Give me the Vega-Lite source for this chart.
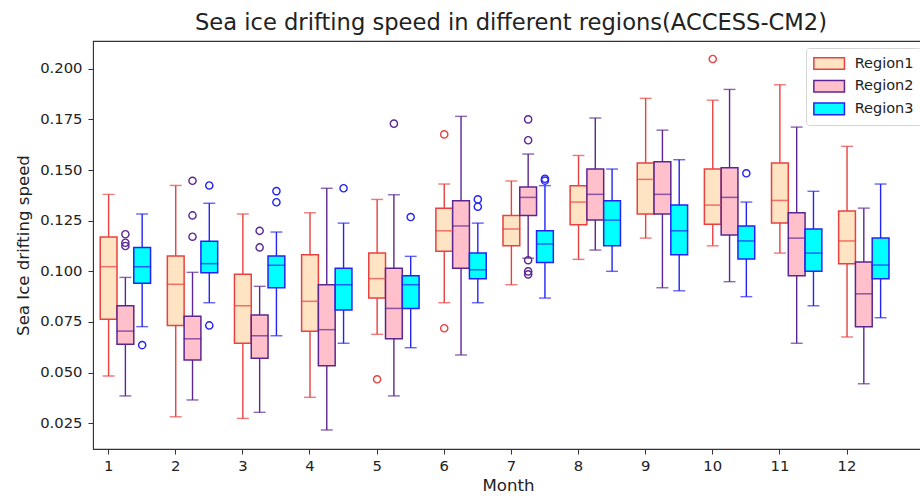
{
  "$schema": "https://vega.github.io/schema/vega-lite/v6.json",
  "autosize": "none",
  "width": 830,
  "height": 408,
  "padding": {"left": 93, "top": 41, "right": 0, "bottom": 52},
  "background": "white",
  "title": {
    "text": "Sea ice drifting speed in different regions(ACCESS-CM2)",
    "font": "DejaVu Sans",
    "fontSize": 22.6,
    "fontWeight": "normal",
    "color": "#222222",
    "anchor": "middle",
    "dx": 3,
    "offset": 6
  },
  "config": {
    "font": "DejaVu Sans",
    "view": {"stroke": "#333333", "strokeWidth": 1.1},
    "axis": {
      "grid": false,
      "domainColor": "#333333",
      "tickColor": "#333333",
      "tickSize": 5,
      "labelFont": "DejaVu Sans",
      "labelFontSize": 14.8,
      "labelColor": "#222222",
      "titleFont": "DejaVu Sans",
      "titleFontSize": 16.6,
      "titleFontWeight": "normal",
      "titleColor": "#222222"
    },
    "legend": {
      "orient": "none",
      "legendX": 713,
      "legendY": 7,
      "title": null,
      "symbolType": "M-2,-0.76H2V0.76H-2Z",
      "symbolSize": 234,
      "symbolOffset": 7.65,
      "symbolStrokeWidth": 1.5,
      "symbolOpacity": 1,
      "labelFont": "DejaVu Sans",
      "labelFontSize": 14.5,
      "labelColor": "#222222",
      "labelOffset": 17,
      "rowPadding": 3.7,
      "padding": 7,
      "strokeColor": "#d5d5d5",
      "fillColor": "white",
      "cornerRadius": 3
    }
  },
  "datasets": {
    "boxes": [
      {"month": 1, "region": "Region1", "lo": 0.0483, "q1": 0.0763, "med": 0.1023, "q3": 0.117, "hi": 0.138},
      {"month": 1, "region": "Region2", "lo": 0.0385, "q1": 0.064, "med": 0.0705, "q3": 0.083, "hi": 0.097},
      {"month": 1, "region": "Region3", "lo": 0.0727, "q1": 0.0941, "med": 0.1023, "q3": 0.1118, "hi": 0.1283},
      {"month": 2, "region": "Region1", "lo": 0.0282, "q1": 0.0733, "med": 0.0936, "q3": 0.1076, "hi": 0.1424},
      {"month": 2, "region": "Region2", "lo": 0.0365, "q1": 0.0562, "med": 0.0667, "q3": 0.0778, "hi": 0.0995},
      {"month": 2, "region": "Region3", "lo": 0.0845, "q1": 0.0993, "med": 0.1038, "q3": 0.1148, "hi": 0.1336},
      {"month": 3, "region": "Region1", "lo": 0.0274, "q1": 0.0645, "med": 0.083, "q3": 0.0985, "hi": 0.1283},
      {"month": 3, "region": "Region2", "lo": 0.0304, "q1": 0.0571, "med": 0.0682, "q3": 0.0784, "hi": 0.0926},
      {"month": 3, "region": "Region3", "lo": 0.0682, "q1": 0.0919, "med": 0.103, "q3": 0.1076, "hi": 0.1194},
      {"month": 4, "region": "Region1", "lo": 0.0378, "q1": 0.0704, "med": 0.0852, "q3": 0.1082, "hi": 0.1289},
      {"month": 4, "region": "Region2", "lo": 0.0217, "q1": 0.0534, "med": 0.0712, "q3": 0.0934, "hi": 0.141},
      {"month": 4, "region": "Region3", "lo": 0.0645, "q1": 0.0809, "med": 0.0934, "q3": 0.1015, "hi": 0.1238},
      {"month": 5, "region": "Region1", "lo": 0.0689, "q1": 0.0868, "med": 0.0964, "q3": 0.109, "hi": 0.1355},
      {"month": 5, "region": "Region2", "lo": 0.0385, "q1": 0.0667, "med": 0.0817, "q3": 0.1015, "hi": 0.1378},
      {"month": 5, "region": "Region3", "lo": 0.0623, "q1": 0.0817, "med": 0.0934, "q3": 0.0978, "hi": 0.1074},
      {"month": 6, "region": "Region1", "lo": 0.0845, "q1": 0.1099, "med": 0.12, "q3": 0.1312, "hi": 0.1431},
      {"month": 6, "region": "Region2", "lo": 0.0587, "q1": 0.1015, "med": 0.1224, "q3": 0.1349, "hi": 0.1765},
      {"month": 6, "region": "Region3", "lo": 0.0845, "q1": 0.0964, "med": 0.1008, "q3": 0.109, "hi": 0.1238},
      {"month": 7, "region": "Region1", "lo": 0.0934, "q1": 0.1126, "med": 0.1209, "q3": 0.1276, "hi": 0.1446},
      {"month": 7, "region": "Region2", "lo": 0.1065, "q1": 0.1276, "med": 0.1365, "q3": 0.1416, "hi": 0.1579},
      {"month": 7, "region": "Region3", "lo": 0.0868, "q1": 0.1044, "med": 0.1135, "q3": 0.12, "hi": 0.1423},
      {"month": 8, "region": "Region1", "lo": 0.1059, "q1": 0.123, "med": 0.1342, "q3": 0.1423, "hi": 0.1572},
      {"month": 8, "region": "Region2", "lo": 0.1105, "q1": 0.1253, "med": 0.138, "q3": 0.1505, "hi": 0.1757},
      {"month": 8, "region": "Region3", "lo": 0.1, "q1": 0.1126, "med": 0.1253, "q3": 0.1349, "hi": 0.1505},
      {"month": 9, "region": "Region1", "lo": 0.1164, "q1": 0.1283, "med": 0.1454, "q3": 0.1535, "hi": 0.1854},
      {"month": 9, "region": "Region2", "lo": 0.0919, "q1": 0.1283, "med": 0.138, "q3": 0.1541, "hi": 0.1697},
      {"month": 9, "region": "Region3", "lo": 0.0904, "q1": 0.1082, "med": 0.12, "q3": 0.1327, "hi": 0.1551},
      {"month": 10, "region": "Region1", "lo": 0.1126, "q1": 0.1232, "med": 0.1327, "q3": 0.1505, "hi": 0.1845},
      {"month": 10, "region": "Region2", "lo": 0.0949, "q1": 0.1179, "med": 0.1365, "q3": 0.1511, "hi": 0.1898},
      {"month": 10, "region": "Region3", "lo": 0.0875, "q1": 0.1061, "med": 0.115, "q3": 0.1224, "hi": 0.1342},
      {"month": 11, "region": "Region1", "lo": 0.109, "q1": 0.1238, "med": 0.135, "q3": 0.1535, "hi": 0.1921},
      {"month": 11, "region": "Region2", "lo": 0.0645, "q1": 0.0978, "med": 0.1164, "q3": 0.1289, "hi": 0.1712},
      {"month": 11, "region": "Region3", "lo": 0.083, "q1": 0.1, "med": 0.109, "q3": 0.1209, "hi": 0.1395},
      {"month": 12, "region": "Region1", "lo": 0.0676, "q1": 0.1038, "med": 0.115, "q3": 0.1298, "hi": 0.1617},
      {"month": 12, "region": "Region2", "lo": 0.0445, "q1": 0.0727, "med": 0.0889, "q3": 0.1046, "hi": 0.1312},
      {"month": 12, "region": "Region3", "lo": 0.0771, "q1": 0.0964, "med": 0.1031, "q3": 0.1164, "hi": 0.1431}
    ],
    "outliers": [
      {"month": 1, "region": "Region2", "value": 0.1183},
      {"month": 1, "region": "Region2", "value": 0.1141},
      {"month": 1, "region": "Region2", "value": 0.1125},
      {"month": 1, "region": "Region3", "value": 0.0636},
      {"month": 2, "region": "Region2", "value": 0.1447},
      {"month": 2, "region": "Region2", "value": 0.1276},
      {"month": 2, "region": "Region2", "value": 0.1171},
      {"month": 2, "region": "Region3", "value": 0.1424},
      {"month": 2, "region": "Region3", "value": 0.0733},
      {"month": 3, "region": "Region2", "value": 0.12},
      {"month": 3, "region": "Region2", "value": 0.1118},
      {"month": 3, "region": "Region3", "value": 0.1396},
      {"month": 3, "region": "Region3", "value": 0.1341},
      {"month": 4, "region": "Region3", "value": 0.141},
      {"month": 5, "region": "Region1", "value": 0.0467},
      {"month": 5, "region": "Region2", "value": 0.1729},
      {"month": 5, "region": "Region3", "value": 0.1268},
      {"month": 6, "region": "Region1", "value": 0.1676},
      {"month": 6, "region": "Region1", "value": 0.0719},
      {"month": 6, "region": "Region3", "value": 0.1355},
      {"month": 6, "region": "Region3", "value": 0.1319},
      {"month": 7, "region": "Region2", "value": 0.175},
      {"month": 7, "region": "Region2", "value": 0.1647},
      {"month": 7, "region": "Region2", "value": 0.1055},
      {"month": 7, "region": "Region2", "value": 0.1},
      {"month": 7, "region": "Region2", "value": 0.0985},
      {"month": 7, "region": "Region3", "value": 0.1457},
      {"month": 7, "region": "Region3", "value": 0.1448},
      {"month": 10, "region": "Region1", "value": 0.2048},
      {"month": 10, "region": "Region3", "value": 0.1484}
    ]
  },
  "encoding": {
    "x": {
      "field": "month",
      "type": "ordinal",
      "scale": {
        "domain": [1, 2, 3, 4, 5, 6, 7, 8, 9, 10, 11, 12],
        "paddingInner": 0.9,
        "paddingOuter": 0.632,
        "align": 0.1443
      },
      "axis": {
        "title": "Month",
        "labelAngle": 0,
        "labelPadding": 4,
        "titlePadding": 5
      }
    },
    "xOffset": {
      "field": "region",
      "type": "nominal",
      "scale": {
        "domain": ["Region1", "Region2", "Region3"],
        "range": [-5.03, 45.31],
        "paddingInner": 0,
        "paddingOuter": 0
      }
    }
  },
  "layer": [
    {
      "data": {"name": "boxes"},
      "mark": {"type": "rule", "strokeWidth": 1.4},
      "encoding": {
        "y": {
          "field": "lo",
          "type": "quantitative",
          "scale": {"domain": [0.0123, 0.2137], "nice": false, "zero": false},
          "axis": {
            "title": "Sea Ice drifting speed",
            "values": [0.025, 0.05, 0.075, 0.1, 0.125, 0.15, 0.175, 0.2],
            "format": ".3f",
            "labelPadding": 6,
            "titlePadding": 8
          }
        },
        "y2": {"field": "hi"},
        "stroke": {
          "field": "region",
          "type": "nominal",
          "scale": {"domain": ["Region1", "Region2", "Region3"], "range": ["#e8413f", "#5b2692", "#2323f5"]}
        }
      }
    },
    {
      "data": {"name": "boxes"},
      "mark": {"type": "tick", "orient": "horizontal", "size": 10.5, "thickness": 0.01, "filled": false, "strokeWidth": 1.4},
      "encoding": {
        "y": {"field": "lo", "type": "quantitative"},
        "stroke": {"field": "region", "type": "nominal"}
      }
    },
    {
      "data": {"name": "boxes"},
      "mark": {"type": "tick", "orient": "horizontal", "size": 10.5, "thickness": 0.01, "filled": false, "strokeWidth": 1.4},
      "encoding": {
        "y": {"field": "hi", "type": "quantitative"},
        "stroke": {"field": "region", "type": "nominal"}
      }
    },
    {
      "data": {"name": "boxes"},
      "mark": {"type": "bar", "strokeWidth": 1.5, "fillOpacity": 1},
      "encoding": {
        "y": {"field": "q1", "type": "quantitative"},
        "y2": {"field": "q3"},
        "fill": {
          "field": "region",
          "type": "nominal",
          "scale": {"domain": ["Region1", "Region2", "Region3"], "range": ["#ffe4c4", "#ffc0cb", "#00ffff"]}
        },
        "stroke": {"field": "region", "type": "nominal"}
      }
    },
    {
      "data": {"name": "boxes"},
      "mark": {"type": "tick", "orient": "horizontal", "size": 16.4, "thickness": 0.01, "filled": false, "strokeWidth": 1.5},
      "encoding": {
        "y": {"field": "med", "type": "quantitative"},
        "stroke": {"field": "region", "type": "nominal"}
      }
    },
    {
      "data": {"name": "outliers"},
      "mark": {"type": "point", "shape": "circle", "filled": false, "size": 52, "strokeWidth": 1.4, "opacity": 1},
      "encoding": {
        "y": {"field": "value", "type": "quantitative"},
        "stroke": {"field": "region", "type": "nominal"}
      }
    }
  ]
}
